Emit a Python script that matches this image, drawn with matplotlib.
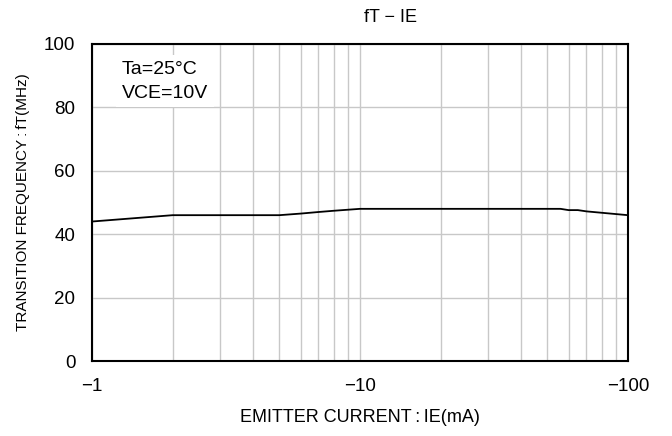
import numpy as np
import matplotlib
matplotlib.use("Agg")
import matplotlib.pyplot as plt
from matplotlib.ticker import FixedLocator, NullFormatter

plt.rcParams['font.family'] = ['Liberation Sans', 'DejaVu Sans']

# data
ie = [1, 2, 5, 6, 7, 8, 10, 20, 56, 60, 65, 70, 100]
ft = [44, 46, 46, 46.5, 47, 47.4, 48, 48, 48, 47.6, 47.6, 47.2, 46]

xticks = [1, 10, 100]
xticklabels = ['\u22121', '\u221210', '\u2212100']
yticks = [0, 20, 40, 60, 80, 100]

fig = plt.figure(figsize=(6.72, 4.36), dpi=100)
ax = fig.add_axes([92/672, 1-361/436, (628-92)/672, (361-44)/436])

ax.plot(ie, ft, color='black', lw=1.3, zorder=3)

ax.set_xscale('log')
ax.set_xlim(1, 100)
ax.set_ylim(0, 100)

minor = [m * d for d in (1, 10) for m in range(2, 10)]
ax.xaxis.set_major_locator(FixedLocator(xticks))
ax.xaxis.set_minor_locator(FixedLocator(minor))
ax.xaxis.set_minor_formatter(NullFormatter())
ax.set_xticklabels(xticklabels)
ax.set_yticks(yticks)
ax.grid(True, which='both', axis='x', color='#c8c8c8', lw=1)
ax.grid(True, which='major', axis='y', color='#c8c8c8', lw=1)
ax.tick_params(which='both', length=0, labelsize=13.5)
ax.tick_params(axis='y', pad=12)
ax.tick_params(axis='x', pad=12)
for s in ax.spines.values():
    s.set_linewidth(1.5)

# condition box, white background hides the grid behind it
ax.text(122/672, 1-61/436, 'Ta=25\u00b0C\nVCE=10V', transform=fig.transFigure, fontsize=14,
        va='top', ha='left', linespacing=1.5,
        bbox=dict(facecolor='white', edgecolor='none', boxstyle='square,pad=0.3'), zorder=4)

fig.text(390/672, 1-17/436, 'fT \u2212 IE', fontsize=13, ha='center', va='center')
ax.set_xlabel('EMITTER CURRENT\u2009:\u2009IE(mA)', fontsize=13, labelpad=10)
ax.set_ylabel('TRANSITION FREQUENCY\u2009:\u2009fT(MHz)', fontsize=11, labelpad=10)

fig.savefig('out.png', dpi=100)
